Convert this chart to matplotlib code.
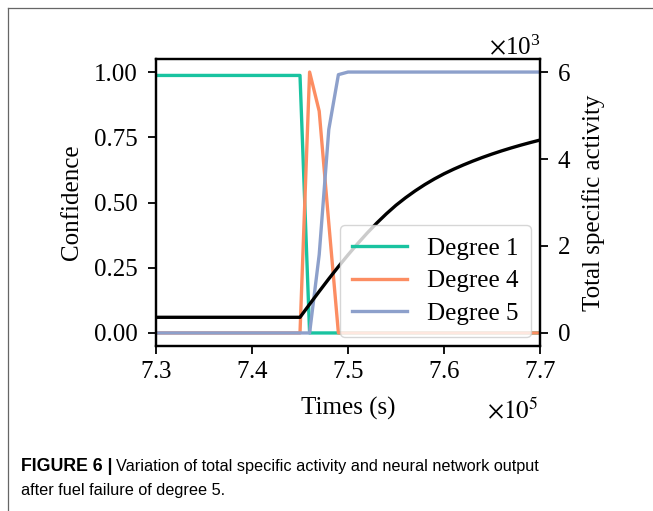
import matplotlib
matplotlib.use('Agg')
import matplotlib.pyplot as plt
from matplotlib.lines import Line2D

plt.rcParams['font.family'] = ['Liberation Serif', 'DejaVu Serif']
plt.rcParams['mathtext.fontset'] = 'stix'

# time axis, every 1000 s from 7.30e5 to 7.70e5
times = [730000 + 1000 * i for i in range(41)]

# network confidence per degree
degree1 = [0.987] * 16 + [0.0] * 25
degree4 = [0.0] * 16 + [1.0, 0.85, 0.42] + [0.0] * 22
degree5 = [0.0] * 17 + [0.30, 0.78, 0.99] + [1.0] * 21

# total specific activity, same time grid
activity = [360] * 15 + [360, 660, 955, 1245, 1525, 1795, 2053, 2298, 2528, 2741,
                         2937, 3110, 3268, 3412, 3542, 3660, 3765, 3862, 3952, 4036,
                         4114, 4187, 4255, 4319, 4379, 4436]

labels = ['Degree 1', 'Degree 4', 'Degree 5']
colors = ['#19c3a0', '#fc8d62', '#8da0cb']

fig = plt.figure(figsize=(6.53, 5.11), dpi=100)
ax = fig.add_axes([156 / 653, 165 / 511, 384 / 653, 287 / 511])
ax2 = ax.twinx()

handles = []
for vals, lab, col in zip([degree1, degree4, degree5], labels, colors):
    h, = ax.plot(times, vals, color=col, lw=2.4, label=lab)
    handles.append(h)

ax2.plot(times, activity, color='black', lw=2.4)

ax.set_xlim(730000, 770000)
ax.set_ylim(-0.05, 1.05)
ax.set_yticks([0, 0.25, 0.5, 0.75, 1.0])
ax.set_xticks([730000, 740000, 750000, 760000, 770000])
ax.ticklabel_format(axis='x', style='sci', scilimits=(5, 5), useMathText=True, useOffset=False)
ax.xaxis.get_offset_text().set_visible(False)

ax2.set_ylim(-300, 6300)
ax2.set_yticks([0, 2000, 4000, 6000])
ax2.ticklabel_format(axis='y', style='sci', scilimits=(3, 3), useMathText=True, useOffset=False)

fs = 18
for a in (ax, ax2):
    a.tick_params(labelsize=fs, length=6, width=1.3, pad=6)
    for s in a.spines.values():
        s.set_linewidth(1.6)
    a.yaxis.get_offset_text().set_fontsize(fs)
ax.tick_params(axis='y', pad=7)
ax.tick_params(axis='x', pad=5)

ax.set_xlabel('Times (s)', fontsize=fs, labelpad=10)
ax.set_ylabel('Confidence', fontsize=fs, labelpad=8)
ax2.set_ylabel('Total specific activity', fontsize=fs, labelpad=8)
fig.text(538 / 653, 1 - 410 / 511, r'$\times10^{5}$', fontsize=fs, ha='right', va='center')

leg = ax2.legend(handles, labels, loc='lower right', fontsize=fs, framealpha=0.8,
                 handlelength=2.2, borderpad=0.5, labelspacing=0.4, handletextpad=0.8,
                 borderaxespad=0.35)
leg.get_frame().set_edgecolor('#cccccc')

# page frame
fig.add_artist(Line2D([7.5 / 653, 1], [1 - 8 / 511, 1 - 8 / 511], color='#666666', lw=0.9))
fig.add_artist(Line2D([7.5 / 653, 7.5 / 653], [0, 1 - 8 / 511], color='#666666', lw=0.9))

# caption
cap_bold = fig.text(21 / 653, 1 - 471 / 511, 'FIGURE 6 |', family='Liberation Sans',
                    weight='bold', fontsize=12.8, va='baseline')
fig.canvas.draw()
bb = cap_bold.get_window_extent(fig.canvas.get_renderer())
fig.text(bb.x1 / 653 + 3 / 653, 1 - 471 / 511,
         'Variation of total specific activity and neural network output',
         family='Liberation Sans', fontsize=11.7, va='baseline')
fig.text(21 / 653, 1 - 495 / 511, 'after fuel failure of degree 5.',
         family='Liberation Sans', fontsize=11.7, va='baseline')

fig.savefig('out.png', dpi=100)
